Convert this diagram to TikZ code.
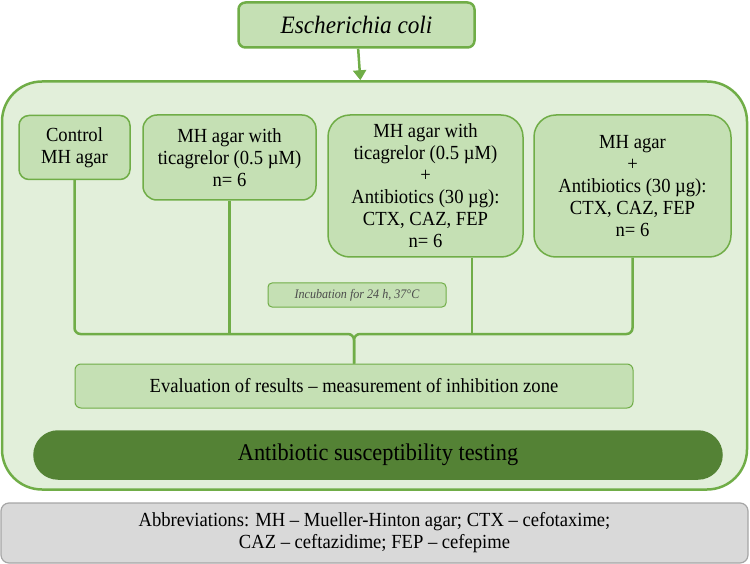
\documentclass[tikz,border=0pt]{standalone}
\usepackage{fontspec}
\setmainfont[FakeStretch=0.93]{Liberation Serif}
\usetikzlibrary{arrows.meta}
\definecolor{leaf}{HTML}{70AD47}
\definecolor{pale}{HTML}{E2EFDA}
\definecolor{mint}{HTML}{C5E0B4}
\definecolor{forest}{HTML}{548235}
\definecolor{ash}{HTML}{D9D9D9}
\begin{document}
\begin{tikzpicture}[x=1pt, y=-1pt, >={Triangle[length=10pt, width=13pt]},
		box/.style={draw=leaf, fill=mint, line width=1.5pt, align=center, inner sep=0pt, font=\fontsize{20}{22}\selectfont},
		link/.style={draw=leaf, line width=2.5pt}]
			\useasboundingbox (0,0) rectangle (750,564);
			% outer frame and top node
			\node[draw=leaf, fill=pale, line width=2.5pt, rounded corners=40pt, minimum width=745pt, minimum height=408pt] (outer) at (374.5,285.5) {};
			\node[box, line width=2.5pt, minimum width=236pt, minimum height=45pt, rounded corners=7pt, font=\fontsize{25}{26}\selectfont\itshape] (ecoli) at (356.5,25) {Escherichia coli};
			\draw[link, ->] (ecoli) -- (outer);
			% groups
			\node[box, minimum width=111pt, minimum height=64pt, rounded corners=10pt] (ctrl) at (74.5,147.5) {Control\\MH agar};
			\node[box, minimum width=173pt, minimum height=85pt, rounded corners=14pt] (tica) at (229.5,157.5) {MH agar with\\ticagrelor (0.5 µM)\\n= 6};
			\node[box, minimum width=195pt, minimum height=142pt, rounded corners=22pt] (combo) at (425.5,186) {MH agar with\\ticagrelor (0.5 µM)\\+\\Antibiotics (30 µg):\\CTX, CAZ, FEP\\n= 6};
			\node[box, minimum width=197pt, minimum height=142pt, rounded corners=22pt] (abx) at (632.5,186) {MH agar\\+\\Antibiotics (30 µg):\\CTX, CAZ, FEP\\n= 6};
			\node[box, line width=1pt, minimum width=178pt, minimum height=24pt, rounded corners=4pt, font=\fontsize{13}{15}\selectfont\itshape, text=black!70] (incub) at (357,295) {Incubation for 24 h, 37°C};
			\node[box, line width=1pt, minimum width=558pt, minimum height=44pt, rounded corners=6pt] (eval) at (354,386) {Evaluation of results – measurement of inhibition zone};
			\node[box, draw=forest, fill=forest, minimum width=688pt, minimum height=48pt, rounded corners=24pt, font=\fontsize{24}{26}\selectfont] (ast) at (378,455) {Antibiotic susceptibility testing};
			\node[box, draw=black!35, fill=ash, line width=1.2pt, minimum width=747pt, minimum height=60pt, rounded corners=8pt, font=\fontsize{20}{22}\selectfont] (abbr) at (374.5,533) {Abbreviations: MH – Mueller-Hinton agar; CTX – cefotaxime;\\CAZ – ceftazidime; FEP – cefepime};
			% connectors
			\coordinate (bus) at (eval.north |- 0,334);
			\draw[link, rounded corners=6pt] (ctrl.south) |- (bus) -- (eval.north);
			\draw[link, rounded corners=6pt] (abx.south) |- (bus) -- (eval.north);
			\draw[link] (tica.south) -- (tica.south |- bus);
			\draw[link] ([xshift=-52pt]combo.south east) -- ([xshift=-52pt]combo.south east |- bus);
		\end{tikzpicture}
\end{document}
